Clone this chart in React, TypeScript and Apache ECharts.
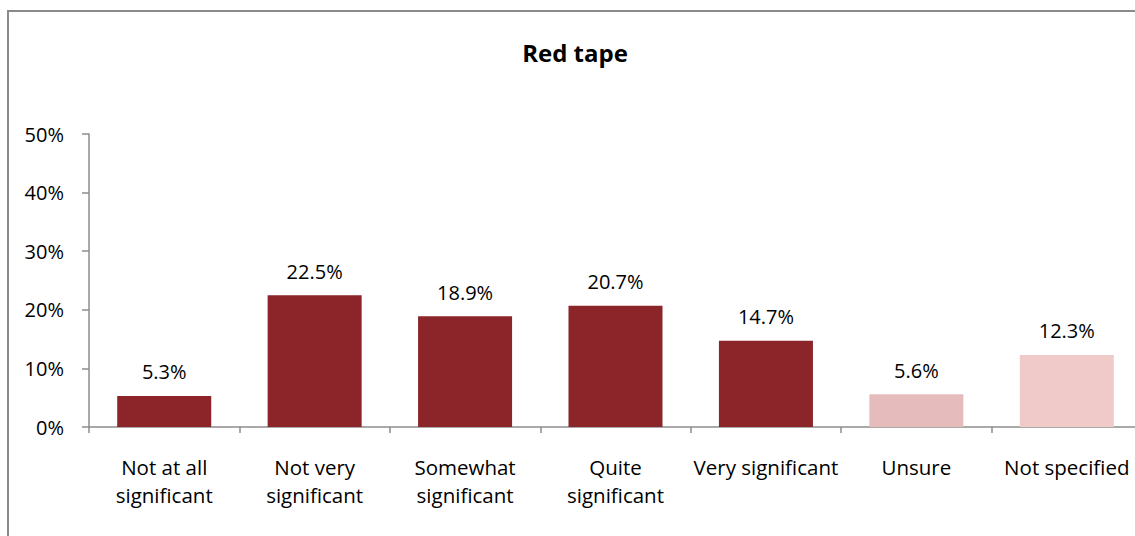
import React, { useEffect, useRef } from "react";
import * as echarts from "echarts";

const categories = [
  "Not at all\nsignificant",
  "Not very\nsignificant",
  "Somewhat\nsignificant",
  "Quite\nsignificant",
  "Very significant",
  "Unsure",
  "Not specified",
];
const values = [5.3, 22.5, 18.9, 20.7, 14.7, 5.6, 12.3];
const barColors = ["#8B2529", "#8B2529", "#8B2529", "#8B2529", "#8B2529", "#E6BBBB", "#F0C9C9"];
const yTicks = [0, 10, 20, 30, 40, 50];
const title = "Red tape";

const FONT = "Open Sans";

export default function App() {
  const ref = useRef<HTMLDivElement>(null);
  useEffect(() => {
    if (!ref.current) return;
    const chart = echarts.init(ref.current, undefined, { renderer: "svg" });
    chart.setOption({
      animation: false,
      backgroundColor: "#ffffff",
      textStyle: { fontFamily: FONT },
      graphic: [
        {
          type: "rect",
          shape: { x: 8, y: 11, width: 1200, height: 600 },
          style: { fill: "none", stroke: "#8a8a8a", lineWidth: 2 },
          silent: true,
        },
        {
          type: "text",
          x: 575,
          y: 52,
          style: {
            text: title,
            fontFamily: FONT,
            fontWeight: "bold",
            fontSize: 24,
            fill: "#000",
            align: "center",
            verticalAlign: "middle",
          },
        },
      ],
      grid: { left: 89, top: 134, right: 0, bottom: 109, containLabel: false },
      xAxis: {
        type: "category",
        data: categories,
        boundaryGap: true,
        axisLine: { lineStyle: { color: "#8c8c8c", width: 1.5 } },
        axisTick: { show: true, length: 6, lineStyle: { color: "#8c8c8c", width: 1.5 } },
        axisLabel: {
          interval: 0,
          margin: 26,
          fontSize: 20.5,
          lineHeight: 28,
          color: "#000",
          fontFamily: FONT,
        },
      },
      yAxis: {
        type: "value",
        min: yTicks[0],
        max: yTicks[yTicks.length - 1],
        interval: 10,
        splitLine: { show: false },
        axisLine: { show: true, lineStyle: { color: "#8c8c8c", width: 1.5 } },
        axisTick: { show: true, length: 7, lineStyle: { color: "#8c8c8c", width: 1.5 } },
        axisLabel: {
          margin: 25,
          fontSize: 20,
          color: "#000",
          fontFamily: FONT,
          formatter: (v: number) => `${v}%`,
        },
      },
      series: [
        {
          type: "bar",
          barWidth: "62.5%",
          data: values.map((v, i) => ({ value: v, itemStyle: { color: barColors[i] } })),
          label: {
            show: true,
            position: "top",
            distance: 14,
            fontSize: 20,
            color: "#000",
            fontFamily: FONT,
            formatter: (p: any) => `${Number(p.value).toFixed(1)}%`,
          },
        },
      ],
    });
    return () => chart.dispose();
  }, []);
  return (
    <div
      ref={ref}
      style={{ position: "fixed", left: 0, top: 0, width: 1142, height: 536, background: "#fff" }}
    />
  );
}
